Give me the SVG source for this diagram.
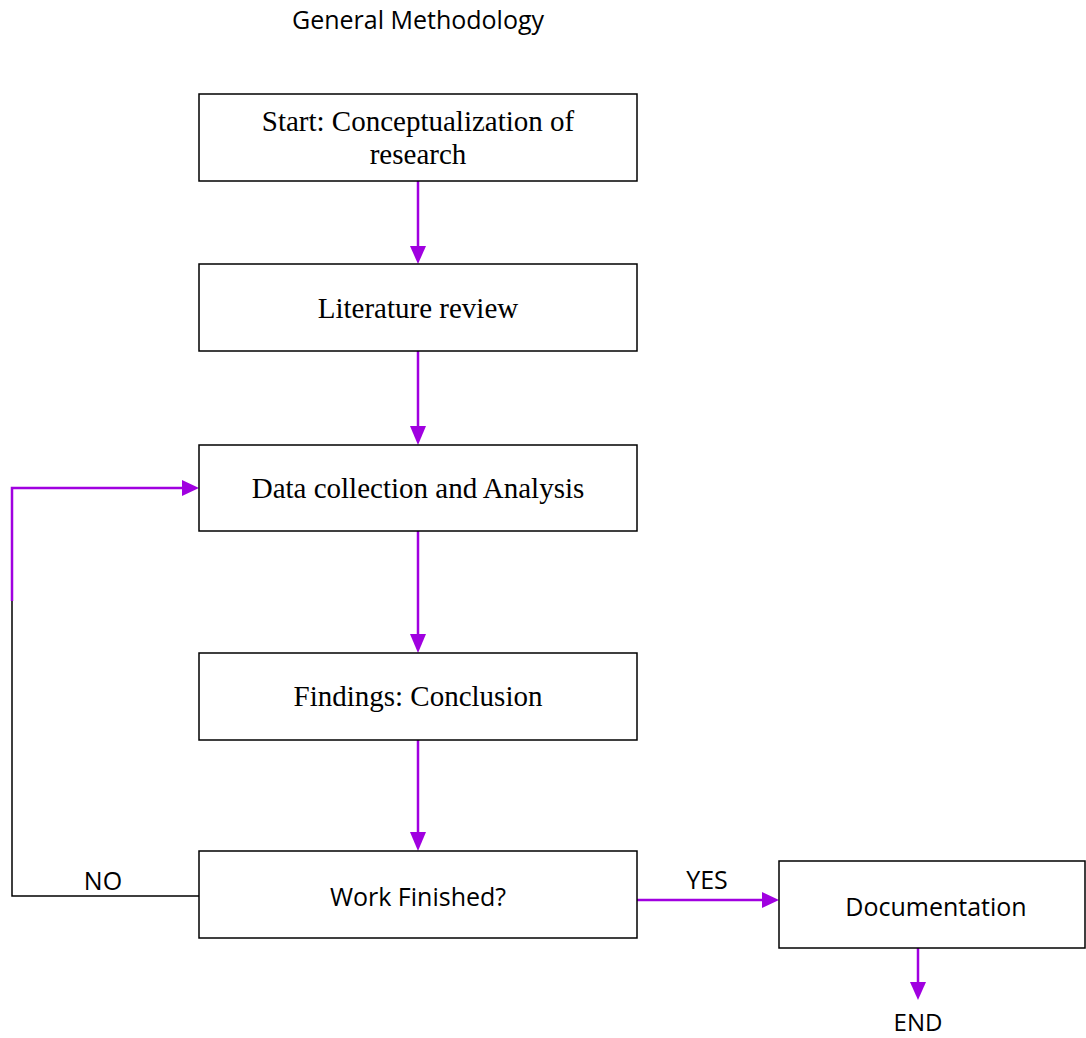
<svg xmlns="http://www.w3.org/2000/svg" width="1086" height="1038" viewBox="0 0 1086 1038">
<style>
.box{fill:#fff;stroke:#000;stroke-width:1.5}
.serif{font-family:"Liberation Serif","Times New Roman",serif;font-size:29px;fill:#000;text-anchor:middle}
.sans{font-family:"Open Sans","Liberation Sans",sans-serif;font-size:25px;fill:#000;text-anchor:middle}
.pl{stroke:#a000e0;stroke-width:2.5;fill:none}
.bl{stroke:#000;stroke-width:1.5;fill:none}
</style>
<rect width="1086" height="1038" fill="#fff"/>
<text class="sans" x="418" y="29">General Methodology</text>
<g id="connectors">
<path class="pl" d="M418,181 V248"/>
<path d="M410,246 L426,246 L418,264 Z" fill="#a000e0"/>
<path class="pl" d="M418,351 V428"/>
<path d="M410,426 L426,426 L418,445 Z" fill="#a000e0"/>
<path class="pl" d="M418,531 V636"/>
<path d="M410,634 L426,634 L418,653 Z" fill="#a000e0"/>
<path class="pl" d="M418,740 V834"/>
<path d="M410,832 L426,832 L418,851 Z" fill="#a000e0"/>
<path class="pl" d="M637,900 H764"/>
<path d="M762,892 L762,908 L779,900 Z" fill="#a000e0"/>
<path class="pl" d="M918,948 V984"/>
<path d="M910,982 L926,982 L918,1000 Z" fill="#a000e0"/>
<path class="bl" d="M199,896 H12 V600"/>
<path class="pl" d="M12,601 V488 H184"/>
<path d="M182,480 L182,496 L199,488 Z" fill="#a000e0"/>
<text class="sans" x="103" y="890">NO</text>
<text class="sans" x="707" y="889">YES</text>
<text class="sans" x="918" y="1031" style="font-size:24px">END</text>
</g>
<g id="n1"><rect class="box" x="199" y="94" width="438" height="87"/>
<text class="serif" x="418" y="131">Start: Conceptualization of</text>
<text class="serif" x="418" y="164">research</text></g>
<g id="n2"><rect class="box" x="199" y="264" width="438" height="87"/>
<text class="serif" x="418" y="318">Literature review</text></g>
<g id="n3"><rect class="box" x="199" y="445" width="438" height="86"/>
<text class="serif" x="418" y="498">Data collection and Analysis</text></g>
<g id="n4"><rect class="box" x="199" y="653" width="438" height="87"/>
<text class="serif" x="418" y="706">Findings: Conclusion</text></g>
<g id="n5"><rect class="box" x="199" y="851" width="438" height="87"/>
<text class="sans" x="418" y="906">Work Finished?</text></g>
<g id="n6"><rect class="box" x="779" y="861" width="306" height="87"/>
<text class="sans" x="936" y="916">Documentation</text></g>
</svg>
